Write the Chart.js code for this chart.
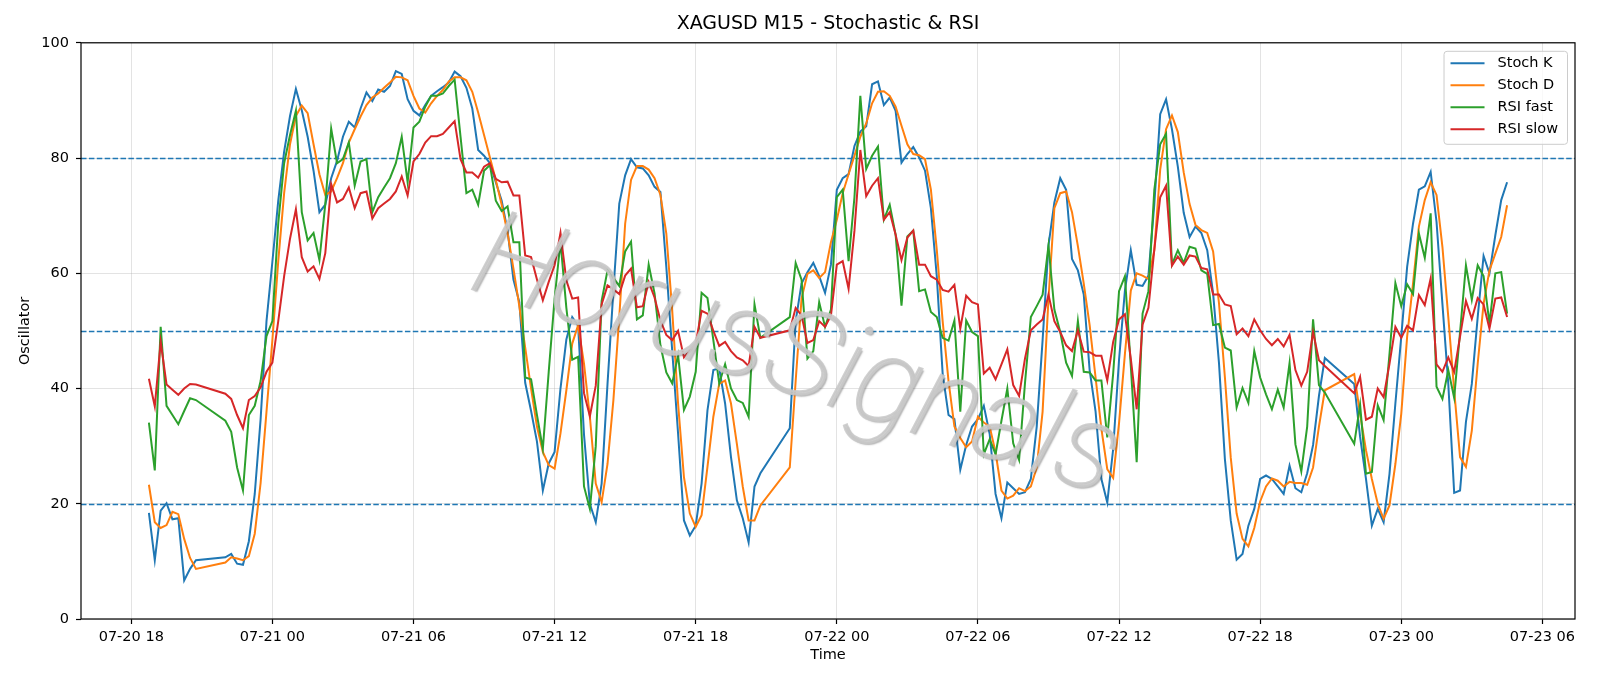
<!DOCTYPE html>
<html>
<head>
<meta charset="utf-8">
<title>XAGUSD M15 - Stochastic & RSI</title>
<script src="https://cdn.jsdelivr.net/npm/chart.js@4.4.1/dist/chart.umd.min.js"></script>
<style>
    html, body { margin: 0; padding: 0; background: #fff; }
    #wrap { width: 1600px; height: 686px; }
</style>
</head>
<body>
<div id="wrap"><canvas id="chart" width="1600" height="686"></canvas></div>
<script>
// M15 sessions: [first bar, number of bars] (daily 21:00 break leaves gaps)
const sessions = [
    ['07-20 18:45', 9],
    ['07-20 22:00', 92],
    ['07-21 22:00', 92],
    ['07-22 22:00', 27]
];

const stochK = [
    18.4, 10.2, 18.8, 20.1, 17.3, 17.5, 6.7, 8.7, 10.2,
    10.7, 11.3, 9.6, 9.4, 13.5, 21.7, 34.7, 51.7,
    62, 72.6, 81.1, 87.3, 92, 88.3, 83.7, 77.8,
    70.6, 71.9, 76.5, 79.5, 83.7, 86.3, 85.3, 88.6,
    91.4, 89.9, 91.9, 91.5, 92.5, 95.1, 94.6, 90.2,
    88.2, 87.4, 89.2, 90.8, 91.6, 92.3, 93.1, 95,
    94.2, 92.2, 88.6, 81.4, 80.4, 79.1, 75.8, 72.6,
    67.4, 58.9, 55, 41, 36.1, 30.8, 22.3, 27,
    29, 40, 48.5, 52.4, 50.9, 32, 20, 16.8,
    23.5, 40.8, 57, 72.1, 77, 79.8, 78.4, 78.2,
    77, 75, 74.1, 61.1, 46.6, 32.2, 17.1, 14.5,
    16.2, 23.5, 36.2, 43.2, 43.5, 37.4, 28.1, 20.6,
    17.5, 13.3, 23, 25.3,
    33.1, 51.7, 58.2, 60.2, 61.8, 59.5, 56.6, 61.5,
    74.5, 76.5, 77.2, 82.1, 84.6, 85.5, 92.8, 93.3,
    89.2, 90.5, 88.2, 79.2, 80.7, 81.9, 80.1, 77.8,
    71.3, 59.5, 42.6, 35.4, 34.7, 25.9, 30.2, 33.4,
    34.7, 37, 32.1, 21.7, 17.5, 23.7, 22.7, 21.7,
    22, 24.3, 33.4, 48.4, 64.8, 72.3, 76.5, 74.5,
    62.5, 60.5, 56.3, 43.2, 36.1, 24.3, 20.2, 29.5,
    45, 57, 64, 58, 57.8, 59.6, 72, 87.6,
    90.2, 85, 78.5, 70.5, 66.3, 68.1, 67, 64,
    56.5, 44.4, 27.8, 17.1, 10.3, 11.3, 16.2, 19.1,
    24.3, 24.9, 24.3, 23, 21.7, 26.6, 22.7, 22,
    25.3, 30.2, 38.7, 45.3,
    40.8, 31.6, 24.3, 16.2, 19.1, 16.8, 25.2, 37.4,
    49, 61.1, 68.6, 74.5, 75.1, 77.6, 68.9, 54.7,
    40.8, 21.9, 22.3, 34.2, 40.8, 52.4, 63, 60,
    66.6, 72.7, 75.8
];

const stochD = [
    23.3, 16.8, 15.8, 16.3, 18.6, 18.2, 13.9, 10.6, 8.7,
    9.8, 10.7, 10.5, 10.2, 10.9, 14.8, 23.6, 36,
    48.4, 62.1, 73.9, 82.4, 87.3, 89.1, 87.8, 82.4,
    77.2, 73.6, 74.2, 76.5, 79.1, 82.7, 85, 87.2,
    89.2, 90.5, 91.2, 92.2, 93.1, 94.1, 94, 93.5,
    90.8, 88.6, 87.9, 89.5, 90.8, 91.8, 93.3, 94,
    94, 93.5, 91.5, 87.9, 84, 80.1, 76.2, 71.9,
    67, 60.8, 54.3, 47.1, 40, 33.4, 29, 26.7,
    26.1, 32.2, 39.7, 47.8, 51, 44.3, 35.1, 23.5,
    20.3, 26.9, 38, 52.4, 68.6, 76.2, 78.6, 78.6,
    78, 76.5, 73.6, 66.9, 53.6, 37.4, 24.6, 18.3,
    16, 18, 26.4, 35.1, 40.8, 41.4, 37.4, 30.4,
    23, 17.1, 17.1, 19.7,
    26.3, 41.3, 55.6, 59.9, 60.5, 59.2, 60.2, 65.4,
    69.3, 73.9, 77.2, 80.4, 83.7, 86, 89.5, 91.5,
    91.6, 90.8, 88.9, 85.6, 82.4, 80.7, 80.5, 79.8,
    74.5, 64.1, 51.7, 41.3, 33.4, 31.4, 29.8, 30.8,
    35.1, 34.1, 33.4, 28.9, 22.3, 20.9, 21.4, 22.7,
    22.2, 23, 26.3, 36, 55.6, 71.3, 73.9, 74.2,
    70.6, 64.7, 58.2, 51, 42, 33, 26, 24.5,
    34, 46, 57, 60, 59.6, 59, 64, 78,
    85, 87.4, 84.5, 77.5, 72, 68.4, 67.5, 67,
    63.8, 54.8, 42, 28, 18.3, 13.9, 12.6, 15.8,
    20.4, 23, 24.4, 24, 23, 23.8, 23.6, 23.6,
    23.3, 26.3, 33.4, 39.7,
    42.5, 35.6, 29.3, 24.3, 20, 17.4, 19.7, 26.9,
    35.6, 49, 58.2, 68.1, 72.7, 75.8, 73.6, 64.6,
    52.4, 39.7, 28.1, 26.4, 32.7, 44.3, 54.7, 60.5,
    63.4, 66.3, 71.8
];

const rsiFast = [
    34.1, 25.8, 50.7, 37, 35.4, 33.8, 36.1, 38.3, 38,
    34.4, 32.5, 26.3, 22.3, 35.4, 37, 41.3, 49.1,
    51.7, 68.7, 79.1, 84, 88.2, 70.6, 65.7, 67,
    62.3, 72, 85.1, 79.1, 79.8, 82.7, 75.2, 79.4,
    79.8, 70.6, 73.2, 74.9, 76.5, 79.1, 83.7, 75.8,
    85.3, 86.3, 88.9, 90.8, 90.8, 91.2, 92.5, 93.6,
    83.7, 73.9, 74.5, 71.9, 77.8, 78.8, 72.6, 70.8,
    71.6, 65.4, 65.4, 41.9, 41.6, 35.4, 29.5, 42.9,
    55.6, 65.5, 54, 45, 45.5, 23, 19.1, 30,
    55.2, 60.5, 59.2, 57.8, 63.8, 65.5, 52, 52.7,
    61.5, 56.5, 47.5, 42.8, 40.9, 45.8, 36.3, 38.6,
    42.9, 56.6, 55.7, 48.4, 40.9, 44.2, 40, 38,
    37.5, 35.1, 54.6, 48.8,
    52.4, 61.8, 58.9, 45.2, 46.5, 55, 50.7, 53.7,
    73.2, 74.5, 62.1, 73.2, 90.8, 78.1, 80.4, 82,
    69.3, 71.9, 66.7, 54.4, 66.4, 67.4, 56.9, 57.2,
    53.3, 52.4, 48.8, 48.3, 51.8, 36, 51.8, 49.8,
    49.1, 28.6, 31.2, 28.6, 34.4, 40, 30.5, 27.6,
    40.9, 52.4, 54.3, 56.3, 64.8, 53.7, 49.8, 44.5,
    42.2, 51.7, 42.9, 42.8, 41.4, 41.4, 31.5, 42.6,
    56.9, 59.5, 43.9, 27.2, 53, 56.9, 74.5, 82.4,
    84.2, 61.5, 64, 61.8, 64.6, 64.3, 60.5, 59.9,
    51, 51.2, 47.1, 46.6, 36.7, 40.1, 37.5, 46.5,
    41.9, 39, 36.4, 39.8, 36.7, 44.4, 30.3, 25.6,
    33.4, 52, 40.6, 39.3,
    30.4, 37.2, 25.2, 25.5, 37.1, 34.5, 46, 58.3,
    54.3, 58.1, 56.4, 66.9, 62.7, 70.4, 40.3, 38.2,
    43.2, 38.4, 49.8, 61.4, 55.4, 61.4, 59.5, 51.3,
    60, 60.2, 53
];

const rsiSlow = [
    41.7, 36.9, 48.1, 40.7, 39.8, 38.9, 40, 40.8, 40.7,
    39.1, 38.2, 35.4, 33.1, 38, 38.7, 40.2, 42.9,
    44.5, 51.7, 59.5, 66, 71.1, 62.8, 60.3, 61.2,
    59, 63.5, 75.5, 72.3, 72.9, 74.9, 71.3, 73.9,
    74.2, 69.5, 71.3, 72.1, 72.9, 74.2, 76.8, 73.5,
    79.4, 80.7, 82.7, 83.8, 83.8, 84.2, 85.3, 86.4,
    79.8, 77.5, 77.5, 76.6, 78.5, 79.1, 76.4, 75.8,
    75.9, 73.5, 73.5, 63.1, 62.8, 58.9, 55.3, 58.5,
    61.4, 67, 58.8, 55.6, 55.8, 39.2, 35.2, 40.5,
    54.6, 57.9, 57.2, 56.4, 59.6, 60.8, 54.1, 54.3,
    58.5, 55.8, 51.8, 49.3, 48.4, 50, 45.4, 46.6,
    47.8, 53.5, 53, 50, 47.4, 48.1, 46.5, 45.4,
    44.9, 43.9, 50.7, 48.8,
    50.1, 54, 52.7, 47.9, 48.4, 51.7, 50.7, 52.7,
    61.5, 62.1, 57.3, 67.4, 81.4, 73.4, 75.2, 76.5,
    69.3, 70.6, 66.7, 62.3, 66.2, 67.4, 61.5, 61.5,
    59.5, 58.9, 57.1, 56.8, 58, 50.4, 56.1, 55,
    54.6, 42.6, 43.6, 41.6, 44.2, 46.8, 40.6, 38.7,
    45.2, 50.1, 51.1, 52, 56.3, 51.7, 49.8, 47.5,
    46.5, 50.1, 46.4, 46.3, 45.7, 45.7, 41.4, 48.1,
    52, 52.9, 45.2, 36.4, 51.1, 54, 64.1, 73.2,
    75.2, 61.3, 62.9, 61.5, 63.1, 62.9, 60.9, 60.7,
    56.3, 56.3, 54.6, 54.3, 49.4, 50.4, 49.1, 52,
    50.1, 48.6, 47.5, 48.6, 47.3, 49.3, 43.2, 40.5,
    42.9, 49.8, 44.9, 43.9,
    39.2, 42, 34.6, 35.1, 40, 38.5, 44.3, 50.7,
    48.8, 50.9, 50.1, 56.2, 54.5, 59.1, 44.2, 42.9,
    45.4, 42.9, 49, 55.2, 52.1, 55.7, 54.6, 50.4,
    55.6, 55.8, 52.4
];

const levels = [20, 50, 80];
const tickHours = [18, 24, 30, 36, 42, 48, 54, 60, 66, 72, 78];
const tickLabels = ['07-20 18', '07-21 00', '07-21 06', '07-21 12', '07-21 18', '07-22 00',
    '07-22 06', '07-22 12', '07-22 18', '07-23 00', '07-23 06'];

const TITLE = 'XAGUSD M15 - Stochastic & RSI';
const WATERMARK = 'HorusSignals';
const FONT = 'DejaVu Sans';

// hours counted from 07-20 00:00
function toHours(stamp) {
    const [md, hm] = stamp.split(' ');
    const day = parseInt(md.split('-')[1], 10);
    const [h, m] = hm.split(':').map(Number);
    return (day - 20) * 24 + h + m / 60;
}

function buildTimes() {
    const out = [];
    sessions.forEach(([start, count]) => {
        const t0 = toHours(start);
        for (let i = 0; i < count; i++) out.push(t0 + i * 0.25);
    });
    return out;
}

const times = buildTimes();
const span = times[times.length - 1] - times[0];
const xMin = times[0] - span * 0.05;
const xMax = times[times.length - 1] + span * 0.05;

const series = [
    { label: 'Stoch K', values: stochK, color: '#1f77b4' },
    { label: 'Stoch D', values: stochD, color: '#ff7f0e' },
    { label: 'RSI fast', values: rsiFast, color: '#2ca02c' },
    { label: 'RSI slow', values: rsiSlow, color: '#d62728' }
];

const levelPlugin = {
    id: 'levels',
    beforeDatasetsDraw(chart) {
        const { ctx, chartArea, scales: { y } } = chart;
        ctx.save();
        ctx.strokeStyle = '#1f77b4';
        ctx.lineWidth = 1.3;
        ctx.setLineDash([5.5, 2.4]);
        levels.forEach(v => {
            const py = Math.round(y.getPixelForValue(v)) + 0.5;
            ctx.beginPath();
            ctx.moveTo(chartArea.left, py);
            ctx.lineTo(chartArea.right, py);
            ctx.stroke();
        });
        ctx.restore();
    }
};

const watermarkPlugin = {
    id: 'watermark',
    afterDatasetsDraw(chart) {
        const { ctx, chartArea } = chart;
        const w = chartArea.right - chartArea.left;
        const h = chartArea.bottom - chartArea.top;
        ctx.save();
        ctx.beginPath();
        ctx.rect(chartArea.left, chartArea.top, w, h);
        ctx.clip();
        ctx.translate(chartArea.left + w * 0.478, chartArea.top + h * 0.555);
        ctx.rotate(18 * Math.PI / 180);
        ctx.font = 'italic 100 120px Roboto, Lato, Inter, sans-serif';
        ctx.textAlign = 'center';
        ctx.textBaseline = 'middle';
        ctx.shadowColor = 'rgba(60,60,60,0.45)';
        ctx.shadowOffsetX = 2;
        ctx.shadowOffsetY = 2;
        ctx.shadowBlur = 1.5;
        ctx.fillStyle = 'rgba(200,200,200,0.85)';
        ctx.strokeStyle = 'rgba(200,200,200,0.85)';
        ctx.lineWidth = 2.2;
        ctx.fillText(WATERMARK, 0, 0);
        ctx.shadowColor = 'transparent';
        ctx.strokeText(WATERMARK, 0, 0);
        ctx.restore();
    }
};

const framePlugin = {
    id: 'frame',
    afterDraw(chart) {
        const { ctx, chartArea } = chart;
        ctx.save();
        ctx.strokeStyle = '#000';
        ctx.lineWidth = 1.2;
        ctx.strokeRect(chartArea.left, chartArea.top,
            chartArea.right - chartArea.left, chartArea.bottom - chartArea.top);

        // legend, upper right
        const fontSize = 14.5;
        ctx.font = fontSize + 'px "' + FONT + '"';
        const textW = Math.max(...series.map(s => ctx.measureText(s.label).width));
        const padL = 7, padR = 9, handle = 34, gap = 13, rowH = 22;
        const boxW = padL + handle + gap + textW + padR;
        const boxH = rowH * series.length + 5;
        const bx = chartArea.right - 8 - boxW;
        const by = chartArea.top + 8;
        ctx.fillStyle = 'rgba(255,255,255,0.8)';
        ctx.strokeStyle = '#cccccc';
        ctx.lineWidth = 1;
        ctx.beginPath();
        ctx.roundRect(bx + 0.5, by + 0.5, boxW, boxH, 3);
        ctx.fill();
        ctx.stroke();
        series.forEach((s, i) => {
            const cy = by + 12.5 + i * rowH;
            ctx.strokeStyle = s.color;
            ctx.lineWidth = 2;
            ctx.beginPath();
            ctx.moveTo(bx + padL, cy);
            ctx.lineTo(bx + padL + handle, cy);
            ctx.stroke();
            ctx.fillStyle = '#000';
            ctx.textBaseline = 'middle';
            ctx.textAlign = 'left';
            ctx.fillText(s.label, bx + padL + handle + gap, cy);
        });
        ctx.restore();
    }
};

const tickFont = { family: FONT, size: 14.5 };
const gridColor = 'rgba(176,176,176,0.35)';

new Chart(document.getElementById('chart'), {
    type: 'line',
    data: {
        datasets: series.map((s, i) => ({
            label: s.label,
            data: times.map((t, j) => ({ x: t, y: s.values[j] })),
            borderColor: s.color,
            backgroundColor: s.color,
            borderWidth: 2,
            pointRadius: 0,
            tension: 0,
            fill: false,
            order: series.length - i
        }))
    },
    options: {
        responsive: false,
        animation: false,
        devicePixelRatio: 1,
        layout: { padding: { left: 0, right: 25, top: 0, bottom: 0 } },
        plugins: {
            legend: { display: false },
            tooltip: { enabled: false },
            title: {
                display: true,
                text: TITLE,
                fullSize: false,
                color: '#000',
                font: { family: FONT, size: 19, weight: 'normal' },
                padding: { top: 13, bottom: 7 }
            }
        },
        scales: {
            x: {
                type: 'linear',
                min: xMin,
                max: xMax,
                afterBuildTicks: scale => {
                    scale.ticks = tickHours.map(v => ({ value: v }));
                },
                afterFit: scale => { scale.height = 67; },
                ticks: {
                    autoSkip: false,
                    maxRotation: 0,
                    padding: 5,
                    color: '#000',
                    font: tickFont,
                    callback: v => tickLabels[tickHours.indexOf(v)]
                },
                grid: { color: gridColor, lineWidth: 1, drawTicks: true, tickLength: 5, tickColor: '#000', tickWidth: 1.2 },
                border: { display: false },
                title: { display: true, text: 'Time', color: '#000', font: tickFont, padding: { top: 0, bottom: 22 } }
            },
            y: {
                min: 0,
                max: 100,
                afterFit: scale => { scale.width = 81; },
                ticks: { stepSize: 20, padding: 7, color: '#000', font: tickFont },
                grid: { color: gridColor, lineWidth: 1, drawTicks: true, tickLength: 5, tickColor: '#000', tickWidth: 1.2 },
                border: { display: false },
                title: { display: true, text: 'Oscillator', color: '#000', font: tickFont, padding: { top: 17, bottom: 0 } }
            }
        }
    },
    plugins: [levelPlugin, watermarkPlugin, framePlugin]
});
</script>
</body>
</html>
